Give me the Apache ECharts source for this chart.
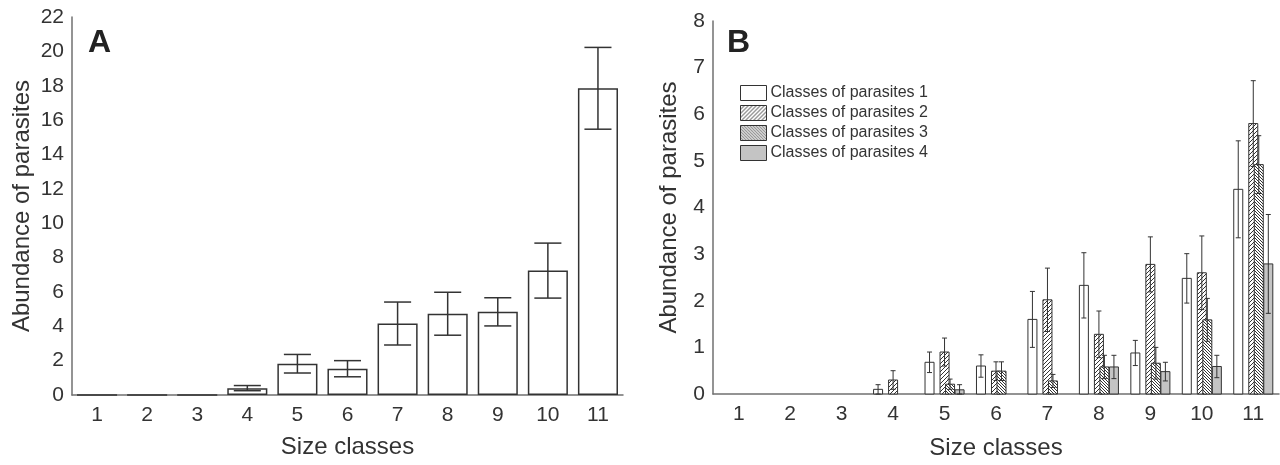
<!DOCTYPE html>
<html><head><meta charset="utf-8">
<script src="https://cdn.jsdelivr.net/npm/echarts@6/dist/echarts.min.js"></script>
<style>html,body{margin:0;padding:0;background:#fff}#c{width:1280px;height:465px}</style>
</head><body><div id="c"></div>
<script>
// ---- data ----
const sizeClasses = ['1','2','3','4','5','6','7','8','9','10','11'];
// Panel A: total abundance of parasites
const abundA = [0, 0, 0, 0.4, 1.82, 1.53, 4.16, 4.73, 4.84, 7.24, 17.85];
const errA   = [0, 0, 0, 0.15, 0.54, 0.47, 1.25, 1.25, 0.82, 1.6, 2.38];
// Panel B: abundance per class of parasites
const seriesNames = ['Classes of parasites 1','Classes of parasites 2','Classes of parasites 3','Classes of parasites 4'];
const cls1 = [0, 0, 0, 0.1, 0.68, 0.6, 1.6, 2.33, 0.88, 2.48, 4.39];
const err1 = [0, 0, 0, 0.1, 0.22, 0.24, 0.6, 0.7, 0.27, 0.53, 1.04];
const cls2 = [0, 0, 0, 0.3, 0.9, 0.49, 2.02, 1.28, 2.78, 2.6, 5.8];
const err2 = [0, 0, 0, 0.2, 0.3, 0.2, 0.68, 0.5, 0.59, 0.79, 0.92];
const cls3 = [0, 0, 0, 0, 0.21, 0.49, 0.28, 0.58, 0.66, 1.59, 4.92];
const err3 = [0, 0, 0, 0, 0.11, 0.2, 0.14, 0.25, 0.34, 0.46, 0.62];
const cls4 = [0, 0, 0, 0, 0.09, 0, 0, 0.58, 0.48, 0.59, 2.79];
const err4 = [0, 0, 0, 0, 0.11, 0, 0, 0.25, 0.2, 0.24, 1.06];

// ---- styles ----
const FONT = "'Liberation Sans', Arial, sans-serif";
const TXT = '#333';
const LINE = '#333';
const AXIS = '#707070';

function hatch(dir, size) {
  const c = document.createElement('canvas');
  c.width = size; c.height = size;
  const g = c.getContext('2d');
  g.fillStyle = '#fff'; g.fillRect(0, 0, size, size);
  g.strokeStyle = '#333'; g.lineWidth = 1;
  g.beginPath();
  if (dir > 0) {
    g.moveTo(0, size); g.lineTo(size, 0);
    g.moveTo(-1, 1); g.lineTo(1, -1);
    g.moveTo(size - 1, size + 1); g.lineTo(size + 1, size - 1);
  } else {
    g.moveTo(0, 0); g.lineTo(size, size);
    g.moveTo(size - 1, -1); g.lineTo(size + 1, 1);
    g.moveTo(-1, size - 1); g.lineTo(1, size + 1);
  }
  g.stroke();
  return { image: c, repeat: 'repeat' };
}
const fills = ['#ffffff', hatch(1, 4), hatch(-1, 3), '#c4c4c4'];
const offsets = [-0.292, 0, 0.107, 0.292];   // fraction of category band
const BW = 0.175;                              // bar width as band fraction

function errorSeriesA() {
  return {
    type: 'custom', xAxisIndex: 0, yAxisIndex: 0, z: 5, silent: true,
    data: abundA.map((v, i) => [i, v, errA[i]]),
    encode: { x: 0, y: 1 },
    renderItem: (p, api) => {
      const i = api.value(0), v = api.value(1), e = api.value(2);
      if (!e) return null;
      const band = api.size([1, 0])[0];
      const cx = api.coord([i, 0])[0];
      const hi = api.coord([i, v + e])[1], lo = api.coord([i, v - e])[1];
      const hw = band * 0.27;
      const st = { stroke: LINE, lineWidth: 1.5 };
      return { type: 'group', children: [
        { type: 'line', shape: { x1: cx, y1: hi, x2: cx, y2: lo }, style: st },
        { type: 'line', shape: { x1: cx - hw, y1: hi, x2: cx + hw, y2: hi }, style: st },
        { type: 'line', shape: { x1: cx - hw, y1: lo, x2: cx + hw, y2: lo }, style: st }
      ]};
    }
  };
}

function seriesB(k, vals, errs) {
  return {
    type: 'custom', name: seriesNames[k], xAxisIndex: 1, yAxisIndex: 1, z: 3 + k,
    itemStyle: { color: fills[k], borderColor: LINE, borderWidth: 1 },
    data: vals.map((v, i) => [i, v, errs[i]]),
    encode: { x: 0, y: 1 },
    renderItem: (p, api) => {
      const i = api.value(0), v = api.value(1), e = api.value(2);
      if (!v && !e) return null;
      const band = api.size([1, 0])[0];
      const base = api.coord([i, 0]);
      const top = api.coord([i, v])[1];
      const w = band * BW;
      const cx = base[0] + offsets[k] * band;
      const hi = api.coord([i, v + e])[1];
      const lo = api.coord([i, Math.max(0, v - e)])[1];
      const st = { stroke: LINE, lineWidth: 1 };
      return { type: 'group', children: [
        { type: 'rect', shape: { x: cx - w / 2, y: top, width: w, height: base[1] - top },
          style: { fill: fills[k], stroke: LINE, lineWidth: 1 } },
        { type: 'line', shape: { x1: cx, y1: hi, x2: cx, y2: lo }, style: st },
        { type: 'line', shape: { x1: cx - 2.5, y1: hi, x2: cx + 2.5, y2: hi }, style: st },
        { type: 'line', shape: { x1: cx - 2.5, y1: lo, x2: cx + 2.5, y2: lo }, style: st }
      ]};
    }
  };
}

const xAxisCommon = {
  type: 'category', data: sizeClasses, boundaryGap: true,
  name: 'Size classes', nameLocation: 'middle',
  nameTextStyle: { fontSize: 24, color: TXT, fontFamily: FONT },
  axisLine: { lineStyle: { color: AXIS, width: 1.5 } },
  axisTick: { show: false },
  axisLabel: { fontSize: 21, color: TXT, fontFamily: FONT, margin: 10 }
};
const yAxisCommon = {
  type: 'value', name: 'Abundance of parasites', nameLocation: 'middle',
  nameTextStyle: { fontSize: 24, color: TXT, fontFamily: FONT },
  axisLine: { show: true, lineStyle: { color: AXIS, width: 1.5 } },
  axisTick: { show: false },
  splitLine: { show: false },
  axisLabel: { fontSize: 21, color: TXT, fontFamily: FONT, margin: 8 }
};

const chart = echarts.init(document.getElementById('c'));
chart.setOption({
  animation: false,
  backgroundColor: '#fff',
  title: [
    { text: 'A', left: 83, top: 22, textStyle: { fontSize: 32, fontWeight: 'bold', color: '#222', fontFamily: FONT } },
    { text: 'B', left: 722, top: 22, textStyle: { fontSize: 32, fontWeight: 'bold', color: '#222', fontFamily: FONT } }
  ],
  legend: {
    data: seriesNames, orient: 'vertical', left: 735, top: 80,
    icon: 'rect', itemWidth: 26, itemHeight: 15, itemGap: 4, selectedMode: false,
    itemStyle: { borderColor: LINE, borderWidth: 1 },
    textStyle: { fontSize: 16, lineHeight: 15, color: TXT, fontFamily: FONT, padding: [0, 0, 0, -1] }
  },
  grid: [
    { left: 72, top: 17, width: 551, height: 378 },
    { left: 713, top: 21, width: 566, height: 377 }
  ],
  xAxis: [
    Object.assign({ gridIndex: 0, nameGap: 40 }, xAxisCommon),
    Object.assign({ gridIndex: 1, nameGap: 42 }, xAxisCommon)
  ],
  yAxis: [
    Object.assign({ gridIndex: 0, min: 0, max: 22, interval: 2, nameGap: 38 }, yAxisCommon),
    Object.assign({ gridIndex: 1, min: 0, max: 8, interval: 1, nameGap: 32 }, yAxisCommon)
  ],
  series: [
    { type: 'bar', xAxisIndex: 0, yAxisIndex: 0, data: abundA, barWidth: '80%',
      itemStyle: { color: '#fff', borderColor: LINE, borderWidth: 1.5 }, silent: true },
    errorSeriesA(),
    seriesB(0, cls1, err1),
    seriesB(1, cls2, err2),
    seriesB(2, cls3, err3),
    seriesB(3, cls4, err4)
  ]
});
</script>
</body></html>
